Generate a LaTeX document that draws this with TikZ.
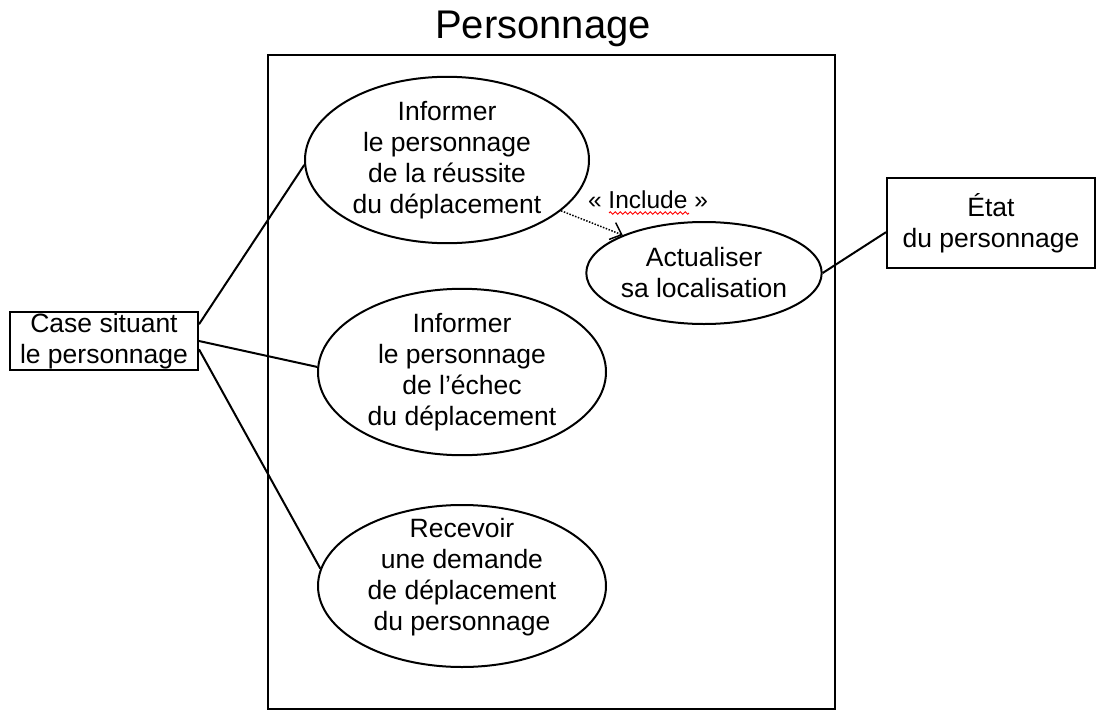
\documentclass[tikz,border=0pt]{standalone}
\usepackage{fontspec}
\setmainfont{Liberation Sans}
\usetikzlibrary{shapes.geometric,arrows.meta,decorations.pathmorphing}
\begin{document}
\begin{tikzpicture}[x=1pt,y=-1pt,
  txt/.style={font=\fontsize{26.5}{31}\selectfont, align=center},
  usecase/.style={txt, ellipse, draw, line width=2pt, inner sep=0pt},
  actor/.style={txt, draw, line width=2pt, inner sep=0pt, rectangle},
  assoc/.style={line width=2pt},
]
\useasboundingbox (0,0) rectangle (1096,712);
\node[draw, line width=2pt, minimum width=567pt, minimum height=654pt, inner sep=0pt] (sys) at (551.5,382) {};
\node[font=\fontsize{40}{44}\selectfont] (title) at (543,29) {Personnage};

\node[usecase, minimum width=284pt, minimum height=154pt] (e1) at (447,160)
  {Informer\\le personnage\\de la réussite\\du déplacement};
\node[usecase, minimum width=228pt, minimum height=102pt] (e2) at (704,273)
  {Actualiser\\sa localisation};
\node[usecase, minimum width=288pt, minimum height=140pt] (e3) at (462,372)
  {Informer\\le personnage\\de l’échec\\du déplacement};
\node[usecase, minimum width=288pt, minimum height=162pt] (e4) at (462,586) {};
\node[txt] (e4t) at ([yshift=9pt]e4.center)
  {Recevoir\\une demande\\de déplacement\\du personnage};

\node[actor, minimum width=188pt, minimum height=58pt] (case) at (104,341)
  {Case situant\\le personnage};
\node[actor, minimum width=208pt, minimum height=90pt] (etat) at (991,223)
  {État\\du personnage};

\draw[assoc] (case.10) -- (e1.182);
\draw[assoc] (case.east) -- (e3.178);
\draw[assoc] (case.-5) -- (e4.173);
\draw[assoc] (e2.east) -- (etat.185);

\draw[line width=1.5pt, dash pattern=on 1.5pt off 1.5pt, -{Straight Barb[length=10pt,width=18pt,line width=1.5pt]}] (e1.-24) -- (e2.155);
\node[font=\fontsize{24.5}{28}\selectfont] (inc) at (648,200) {« Include »};
\draw[red, line width=0.9pt, decorate, decoration={zigzag, segment length=5pt, amplitude=1.2pt}]
  ([xshift=-39pt,yshift=-13pt]inc.center) -- ([xshift=41pt,yshift=-13pt]inc.center);
\end{tikzpicture}
\end{document}
